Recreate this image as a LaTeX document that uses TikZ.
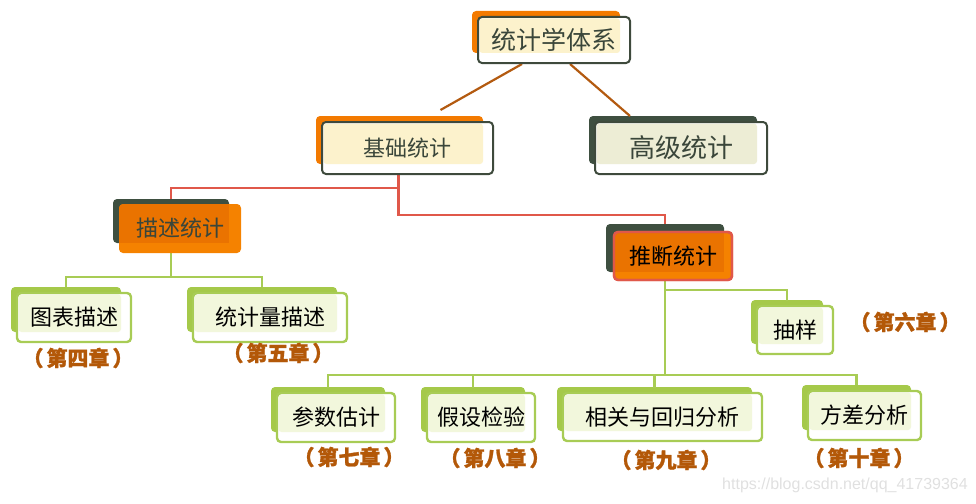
\documentclass[tikz,border=0pt]{standalone}
\usepackage{fontspec}
\setmainfont{Liberation Sans}
\newfontfamily\cjk{Noto Sans CJK SC}
\usetikzlibrary{calc}
\pgfdeclarelayer{background}
\pgfdeclarelayer{backmost}
\pgfsetlayers{backmost,background,main}
\definecolor{orng}{HTML}{F37A00}
\definecolor{orngdk}{HTML}{E87000}
\definecolor{orngfr}{HTML}{F58200}
\definecolor{darkbk}{HTML}{3E4F40}
\definecolor{darkbd}{HTML}{3E4A3C}
\definecolor{lightyel}{HTML}{FCF2CC}
\definecolor{lightgrn}{HTML}{EDEDD5}
\definecolor{grnbk}{HTML}{A5C94A}
\definecolor{grnbd}{HTML}{A8CC55}
\definecolor{grnlt}{HTML}{F2F7DC}
\definecolor{redln}{HTML}{E0584A}
\definecolor{brownln}{HTML}{B35A10}
\definecolor{chapc}{HTML}{B35808}
\definecolor{txtdk}{HTML}{3A463A}
\definecolor{wmark}{HTML}{E0E0E0}
\tikzset{
  box/.style={rectangle, rounded corners=4pt, inner sep=0pt, outer sep=0pt, line width=2pt, font=\cjk\fontsize{22}{24}\selectfont},
  topbox/.style={box, draw=darkbd, text=txtdk},
  grnbox/.style={box, draw=grnbd, line width=2.4pt, text=black},
  chap/.style={font=\cjk\bfseries\addfontfeatures{FakeBold=1.2}\fontsize{21}{23}\selectfont, text=chapc, inner sep=0pt},
  brownc/.style={draw=brownln, line width=2.2pt},
  redc/.style={draw=redln, line width=2.4pt},
  grnc/.style={draw=grnbd, line width=2.4pt},
}
\newcommand{\chaptext}[1]{（\hspace{3pt}#1\hspace{3pt}）}
% back rect + white + light fill behind a node
\newcommand{\boxbg}[3]{%
  \begin{pgfonlayer}{backmost}
    \fill[#2, rounded corners=4pt] ($(#1.north west)+(-6,-6)$) rectangle ($(#1.south east)+(-10,-10)$);
  \end{pgfonlayer}
  \begin{pgfonlayer}{background}
    \fill[white, rounded corners=4pt] (#1.north west) rectangle (#1.south east);
    \fill[#3, rounded corners=3pt] ($(#1.north west)+(1.5,1.5)$) rectangle ($(#1.south east)+(-10,-10)$);
  \end{pgfonlayer}
}
\begin{document}
\begin{tikzpicture}[x=1pt,y=-1pt]
\useasboundingbox (0,0) rectangle (976,503);
% top level
\node[topbox, minimum width=152pt, minimum height=46pt, font=\cjk\fontsize{25}{27}\selectfont] (root) at (554,40) {统计学体系};
\node[topbox, minimum width=171pt, minimum height=52pt] (basic) at (407.5,148) {基础统计};
\node[topbox, minimum width=172pt, minimum height=52pt, font=\cjk\fontsize{26}{28}\selectfont] (adv) at (681,148) {高级统计};
\boxbg{root}{orng}{lightyel}
\boxbg{basic}{orng}{lightyel}
\boxbg{adv}{darkbk}{lightgrn}
% second level
\node[box, fill=orngfr, text=txtdk, minimum width=122pt, minimum height=49pt] (desc) at (180,228.5) {描述统计};
\node[box, fill=orngfr, draw=redln, line width=2.4pt, text=black, minimum width=118pt, minimum height=48pt] (infer) at (673,256) {推断统计};
\begin{pgfonlayer}{backmost}
  \fill[darkbk, rounded corners=4pt] ($(desc.north west)+(-6,-5)$) rectangle ($(desc.south east)+(-12,-10)$);
  \fill[darkbk, rounded corners=4pt] ($(infer.north west)+(-8,-8)$) rectangle ($(infer.south east)+(-8,-8)$);
\end{pgfonlayer}
\begin{scope}
  \clip[rounded corners=4pt] (desc.north west) rectangle (desc.south east);
  \fill[orngdk, opacity=0.8] (desc.north west) rectangle ($(desc.south east)+(-12,-10)$);
\end{scope}
\node[box, text=txtdk, minimum width=122pt, minimum height=49pt] at (desc.center) {描述统计};
\begin{scope}
  \clip[rounded corners=4pt] (infer.north west) rectangle (infer.south east);
  \fill[orngdk, opacity=0.8] (infer.north west) rectangle ($(infer.south east)+(-8,-8)$);
\end{scope}
\node[box, draw=redln, line width=2.4pt, text=black, minimum width=118pt, minimum height=48pt] at (infer.center) {推断统计};
% third level
\node[grnbox, minimum width=114pt, minimum height=49pt] (chart) at (74,317.5) {图表描述};
\node[grnbox, minimum width=154pt, minimum height=49pt] (stat) at (270,317.5) {统计量描述};
\node[grnbox, minimum width=76pt, minimum height=48pt] (sample) at (795,330) {抽样};
\node[grnbox, minimum width=118pt, minimum height=49pt] (param) at (336,417.5) {参数估计};
\node[grnbox, minimum width=108pt, minimum height=49pt] (hypo) at (481,417.5) {假设检验};
\node[grnbox, minimum width=199pt, minimum height=48pt] (corr) at (662.5,417) {相关与回归分析};
\node[grnbox, minimum width=113pt, minimum height=49pt] (anova) at (864.5,415.5) {方差分析};
\boxbg{chart}{grnbk}{grnlt}
\boxbg{stat}{grnbk}{grnlt}
\boxbg{sample}{grnbk}{grnlt}
\boxbg{param}{grnbk}{grnlt}
\boxbg{hypo}{grnbk}{grnlt}
\boxbg{corr}{grnbk}{grnlt}
\boxbg{anova}{grnbk}{grnlt}
% chapter labels
\node[chap] (c4) at (78,358) {\chaptext{第四章}};
\node[chap] (c5) at (278,353) {\chaptext{第五章}};
\node[chap] (c6) at (905,322) {\chaptext{第六章}};
\node[chap] (c7) at (349,457) {\chaptext{第七章}};
\node[chap] (c8) at (495,458) {\chaptext{第八章}};
\node[chap] (c9) at (666,460) {\chaptext{第九章}};
\node[chap] (c10) at (859,458) {\chaptext{第十章}};
% connectors
\begin{pgfonlayer}{backmost}
\draw[brownc] ($(root.south)+(-32,1)$) -- ($(basic.north)+(33,-12)$);
\draw[brownc] ($(root.south)+(16,1)$) -- ($(adv.north)+(-51,-6)$);
\coordinate (bj) at ($(basic.south)+(-9,14)$);
\draw[redc] ($(basic.south)+(-9,0)$) -- (bj) -| ($(desc.north)+(-9,-5)$);
\draw[redc] (bj) -- ++(0,27) -| ($(infer.north)+(-8,-8)$);
\coordinate (dj) at ($(desc.south)+(-9,24)$);
\draw[grnc] ($(desc.south)+(-9,0)$) -- (dj) -| ($(chart.north)+(-8,-6)$);
\draw[grnc] (dj) -| ($(stat.north)+(-8,-6)$);
\coordinate (ij1) at ($(infer.south)+(-8,10)$);
\coordinate (ij2) at ($(infer.south)+(-8,95)$);
\draw[grnc] ($(infer.south)+(-8,0)$) -- (ij2);
\draw[grnc] (ij1) -| ($(sample.north)+(-8,-5)$);
\draw[grnc] (ij2) -| ($(param.north)+(-8,-5)$);
\draw[grnc] (ij2) -| ($(hypo.north)+(-8,-5)$);
\draw[grnc] (ij2) -| ($(corr.north)+(-8,-5)$);
\draw[grnc] (ij2) -| ($(anova.north)+(-8,-6)$);
\end{pgfonlayer}
% watermark
\node[font=\fontsize{16}{18}\selectfont, text=wmark, inner sep=0pt] (wm) at (845,485) {https://blog.csdn.net/qq\_41739364};
\end{tikzpicture}
\end{document}
